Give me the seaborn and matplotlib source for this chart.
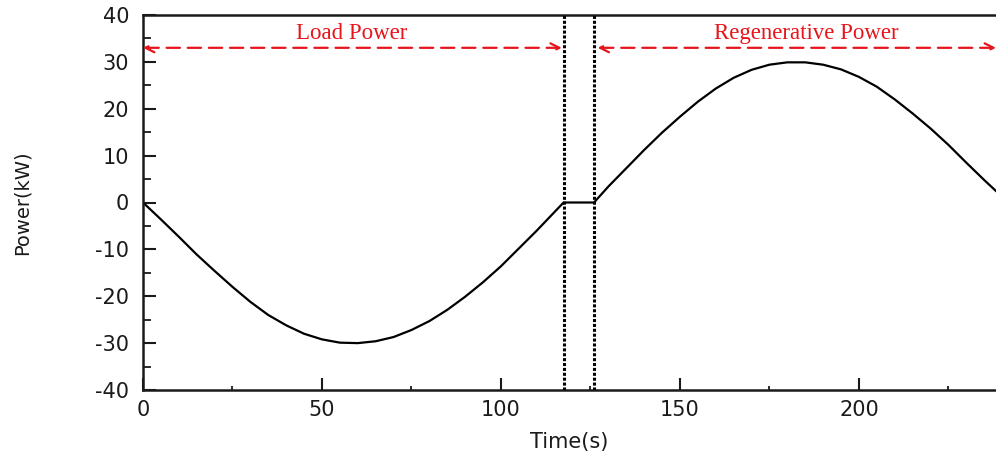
import matplotlib
matplotlib.use("Agg")
import matplotlib.pyplot as plt
from matplotlib.ticker import MultipleLocator
import seaborn as sns
import pandas as pd

# ---- data ----
time_s = [0, 5, 10, 15, 20, 25, 30, 35, 40, 45, 50, 55, 60, 65, 70, 75, 80, 85,
          90, 95, 100, 105, 110, 115, 117.5, 126, 130, 135, 140, 145, 150, 155,
          160, 165, 170, 175, 180, 185, 190, 195, 200, 205, 210, 215, 220, 225,
          230, 235, 238.5]
power_kw = [0, -3.6, -7.3, -11.1, -14.6, -18.0, -21.2, -24.0, -26.2, -28.0,
            -29.2, -29.9, -30.0, -29.6, -28.7, -27.2, -25.3, -22.9, -20.1,
            -17.0, -13.6, -9.8, -6.0, -2.0, 0, 0, 3.4, 7.3, 11.2, 14.9, 18.3,
            21.5, 24.3, 26.6, 28.3, 29.4, 29.9, 29.9, 29.4, 28.4, 26.8, 24.7,
            22.0, 19.0, 15.8, 12.3, 8.5, 4.8, 2.3]
boundary_times = [117.5, 126]
region_labels = ["Load Power", "Regenerative Power"]
region_label_x = [58.4, 185.2]
region_spans = [(0, 117.0), (127.0, 238.3)]
x_ticks = [0, 50, 100, 150, 200]
y_ticks = [-40, -30, -20, -10, 0, 10, 20, 30, 40]

df = pd.DataFrame({"Time(s)": time_s, "Power(kW)": power_kw})

sns.set_style("ticks")
plt.rcParams["font.family"] = ["DejaVu Sans"]
plt.rcParams["axes.unicode_minus"] = False

fig = plt.figure(figsize=(9.96, 4.53), dpi=100)
ax = fig.add_axes([143 / 996, 63 / 453, 853 / 996, 375 / 453])

sns.lineplot(data=df, x="Time(s)", y="Power(kW)", ax=ax, color="black",
             linewidth=1.6, sort=False, estimator=None)

for bt in boundary_times:
    ax.axvline(bt, color="black", linewidth=2.2, linestyle=(0, (1, 0.6)), zorder=3)

arrow_y = 33
for (x0, x1) in region_spans:
    ax.annotate("", xy=(x1, arrow_y), xytext=(x0, arrow_y),
                arrowprops=dict(arrowstyle="<->", color="#e8141c", lw=1.6,
                                linestyle=(0, (6, 3.5)), mutation_scale=16,
                                shrinkA=0, shrinkB=0))
for lbl, lx in zip(region_labels, region_label_x):
    ax.text(lx, 36.0, lbl, color="#e8141c", ha="center", va="center",
            fontsize=16.5, family=["Liberation Serif", "DejaVu Serif"])

ax.set_xlim(0, 238.3)
ax.set_ylim(-40, 40)
ax.set_xticks(x_ticks)
ax.set_yticks(y_ticks)
ax.xaxis.set_minor_locator(MultipleLocator(25))
ax.yaxis.set_minor_locator(MultipleLocator(5))
ax.tick_params(axis="both", which="major", direction="in", length=9, width=1.5,
               labelsize=15, colors="#1a1a1a")
ax.tick_params(axis="x", which="major", pad=7)
ax.tick_params(axis="y", which="major", pad=10)
ax.tick_params(axis="y", which="minor", direction="in", length=6, width=1.3, color="#1a1a1a")
ax.tick_params(axis="x", which="minor", direction="in", length=3, width=1.3, color="#1a1a1a")

for side in ["left", "bottom", "top"]:
    ax.spines[side].set_linewidth(1.8)
    ax.spines[side].set_color("#1a1a1a")
ax.spines["right"].set_visible(False)

ax.set_xlabel("Time(s)", fontsize=15, labelpad=9, color="#1a1a1a")
ax.set_ylabel("Power(kW)", fontsize=14, labelpad=46, color="#1a1a1a")

fig.savefig("out.png", dpi=100)
